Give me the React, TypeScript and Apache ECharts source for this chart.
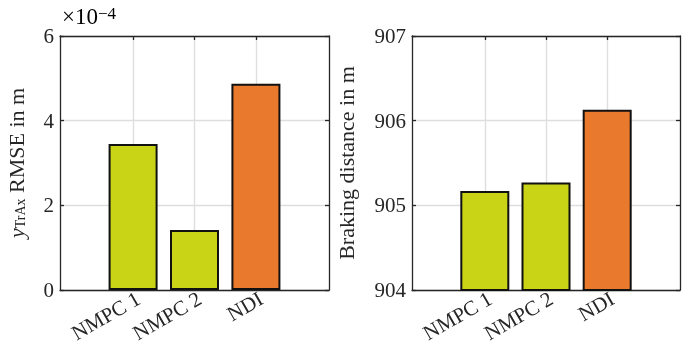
import React, { useEffect, useRef } from "react";
import * as echarts from "echarts";

const categories = ["NMPC 1", "NMPC 2", "NDI"];
const categoryPositions = [1, 2, 3];
const rmseValues = [3.45e-4, 1.42e-4, 4.87e-4];
const brakingValues = [905.17, 905.27, 906.13];
const barColors = ["#C9D417", "#C9D417", "#E8792D"];
const rmseTicks = [0, 2e-4, 4e-4, 6e-4];
const brakingTicks = [904, 905, 906, 907];

const FONT = "Liberation Serif";
const AXIS_COLOR = "#262626";
const GRID_COLOR = "#DEDEDE";

function makeX(gridIndex: number, position: "bottom" | "top") {
  return {
    type: "value",
    gridIndex,
    position,
    min: -0.19,
    max: 4.19,
    axisLine: { show: true, onZero: false, lineStyle: { color: AXIS_COLOR, width: 1.3 } },
    axisTick: {
      show: true,
      inside: true,
      length: 4,
      customValues: categoryPositions,
      lineStyle: { color: AXIS_COLOR, width: 1.3 },
    },
    axisLabel: {
      show: position === "bottom",
      customValues: categoryPositions,
      formatter: (v: number) => {
        const i = categoryPositions.indexOf(Math.round(v));
        return i >= 0 ? categories[i] : "";
      },
      rotate: 30,
      margin: 10,
      padding: [0, -6, 0, 0],
      fontFamily: FONT,
      fontSize: 21,
      color: "#262626",
    },
    splitLine: position === "bottom" ? { show: true, lineStyle: { color: GRID_COLOR, width: 1.4 } } : { show: false },
  };
}

function makeY(
  gridIndex: number,
  position: "left" | "right",
  min: number,
  max: number,
  interval: number,
  fmt: (v: number) => string,
  name?: string,
  nameGap?: number,
  rich?: any
) {
  return {
    type: "value",
    gridIndex,
    position,
    min,
    max,
    interval,
    name: position === "left" ? name : "",
    nameLocation: "middle",
    nameGap: nameGap ?? 30,
    nameMoveOverlap: false,
    nameTextStyle: { fontFamily: FONT, fontSize: 22, color: "#262626", rich },
    axisLine: { show: true, onZero: false, lineStyle: { color: AXIS_COLOR, width: 1.3 } },
    axisTick: { show: true, inside: true, length: 4, lineStyle: { color: AXIS_COLOR, width: 1.3 } },
    axisLabel: {
      show: position === "left",
      formatter: fmt,
      margin: 6,
      fontFamily: FONT,
      fontSize: 21,
      color: "#262626",
    },
    splitLine: position === "left" ? { show: true, lineStyle: { color: GRID_COLOR, width: 1.4 } } : { show: false },
  };
}

export default function App() {
  const ref = useRef<HTMLDivElement>(null);
  useEffect(() => {
    document.body.style.margin = "0";
    const chart = echarts.init(ref.current!, undefined, { renderer: "svg" });
    const rmseFmt = (v: number) => String(Math.round(v * 1e4));
    const brakeFmt = (v: number) => String(Math.round(v));
    const titleRich = {
      i: { fontFamily: FONT, fontSize: 22, fontStyle: "italic", color: "#262626" },
      sub: { fontFamily: FONT, fontSize: 14, color: "#262626", verticalAlign: "bottom", padding: [8, 0, 0, 0] },
    };
    const mkData = (vals: number[]) =>
      vals.map((v, i) => ({
        value: [categoryPositions[i], v],
        itemStyle: { color: barColors[i], borderColor: "#111", borderWidth: 2 },
      }));
    chart.setOption({
      animation: false,
      grid: [
        { left: 60, top: 36, width: 269, height: 254 },
        { left: 412, top: 36, width: 268, height: 254 },
      ],
      xAxis: [makeX(0, "bottom"), makeX(0, "top"), makeX(1, "bottom"), makeX(1, "top")],
      yAxis: [
        makeY(0, "left", rmseTicks[0], rmseTicks[rmseTicks.length - 1], rmseTicks[1] - rmseTicks[0], rmseFmt,
          "{i|y}{sub|TrAx} RMSE in m", 33, titleRich),
        makeY(0, "right", rmseTicks[0], rmseTicks[rmseTicks.length - 1], rmseTicks[1] - rmseTicks[0], rmseFmt),
        makeY(1, "left", brakingTicks[0], brakingTicks[brakingTicks.length - 1], 1, brakeFmt, "Braking distance in m", 55),
        makeY(1, "right", brakingTicks[0], brakingTicks[brakingTicks.length - 1], 1, brakeFmt),
      ],
      series: [
        {
          type: "bar",
          xAxisIndex: 0,
          yAxisIndex: 0,
          barWidth: 49,
          data: mkData(rmseValues),
          z: 3,
        },
        {
          type: "bar",
          xAxisIndex: 2,
          yAxisIndex: 2,
          barWidth: 49,
          data: mkData(brakingValues),
          z: 3,
        },
      ],
      graphic: [
        {
          type: "text",
          left: 62,
          top: 5,
          style: {
            text: "{a|×10}{b|−4}",
            rich: {
              a: { fontFamily: FONT, fontSize: 23, color: "#262626", verticalAlign: "bottom" },
              b: { fontFamily: FONT, fontSize: 17, color: "#262626", verticalAlign: "top" },
            },
          },
        },
      ],
    });
    return () => chart.dispose();
  }, []);
  return <div ref={ref} style={{ width: 683, height: 360, position: "fixed", left: 0, top: 0 }} />;
}
